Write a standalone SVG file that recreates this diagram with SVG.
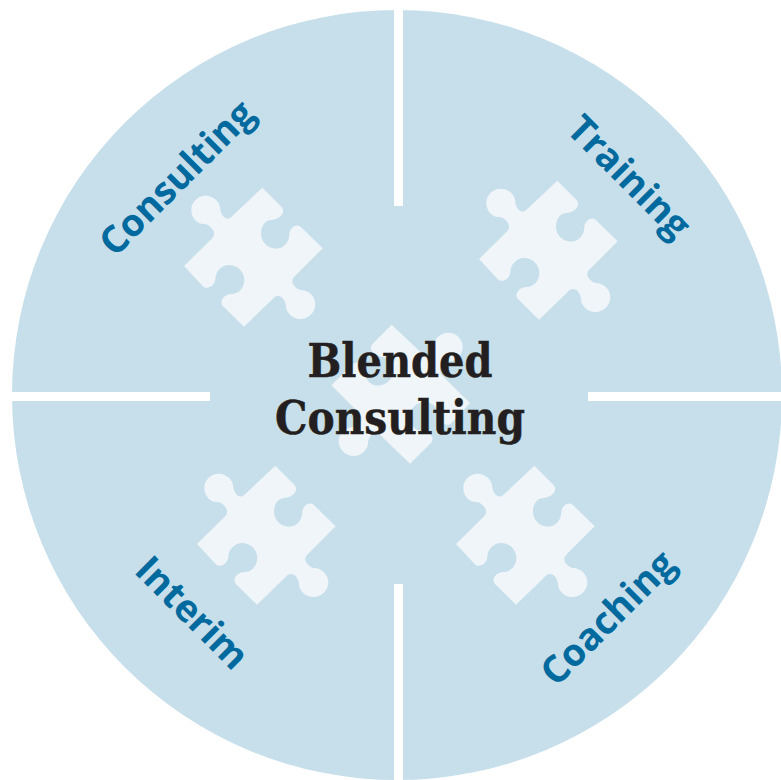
<svg xmlns="http://www.w3.org/2000/svg" width="781" height="780" viewBox="0 0 781 780">
<style>
.piece{fill:#eff5f9}
.gap{stroke:#fff;stroke-width:9;fill:none}
.label{font-family:"Open Sans","Noto Sans",sans-serif;font-weight:700;font-size:37.700px;fill:#006a9e;text-anchor:middle}
.title{font-family:"DejaVu Serif","Liberation Serif",serif;font-weight:700;font-size:47px;fill:#231f20;text-anchor:middle;stroke:#231f20;stroke-width:.5px}
</style>
<defs>
<path id="puzzle" transform="scale(.33333)" d="M277 53 L334 110 Q347 126 330 140 Q318 150 305 150 C285 150 272 170 273 193 C274 218 295 236 318 236 C342 236 358 215 358 192 C358 178 375 158 392 170 L458 235 L372 321 Q360 335 375 350 Q384 360 392 360 C417 360 436 380 436 403 C436 428 415 447 392 447 C367 447 348 428 348 408 C348 395 335 370 315 380 L222 470 L158 407 Q148 392 165 378 Q175 372 185 372 C207 372 223 352 223 330 C223 305 202 285 178 285 C155 285 136 304 136 328 C136 340 118 362 100 350 L42 288 L128 203 Q138 190 125 175 Q115 162 100 162 C80 162 64 142 64 120 C64 95 85 77 107 77 C132 77 151 97 151 118 C151 130 165 155 183 142 Z"/>
</defs>
<circle id="disc" cx="397" cy="395" r="385" fill="#c7dfeb"/>
<g id="dividers">
<path class="gap" d="M398.500 0V206M398.500 584V780M0 396.500H210M588 396.500H781"/>
</g>
<g id="node-consulting">
<use class="piece" href="#puzzle" transform="translate(170 170)"/>
<text class="label" transform="translate(186 187) rotate(-45)">Consulting</text>
</g>
<g id="node-training">
<use class="piece" href="#puzzle" transform="translate(465 163)"/>
<text class="label" transform="translate(620 186) rotate(45)">Training</text>
</g>
<g id="node-interim">
<use class="piece" href="#puzzle" transform="translate(183 448)"/>
<text class="label" transform="translate(183 622) rotate(45)">Interim</text>
</g>
<g id="node-coaching">
<use class="piece" href="#puzzle" transform="translate(442 448)"/>
<text class="label" transform="translate(617 627) rotate(-45)">Coaching</text>
</g>
<g id="node-center">
<use class="piece" href="#puzzle" transform="translate(484 307) scale(-1 1)"/>
<text class="title" x="400" y="377" textLength="185" lengthAdjust="spacingAndGlyphs">Blended</text>
<text class="title" x="400" y="434" textLength="250" lengthAdjust="spacingAndGlyphs">Consulting</text>
</g>
</svg>
